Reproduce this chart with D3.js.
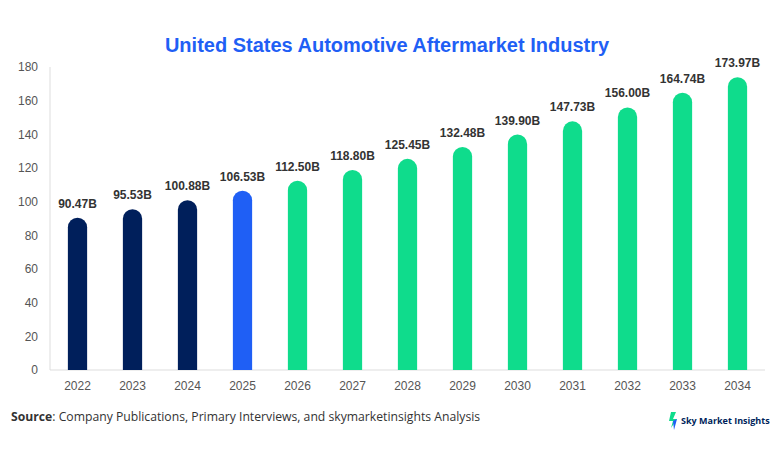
<!DOCTYPE html>
<html><head><meta charset="utf-8">
<script src="https://cdn.jsdelivr.net/npm/d3@7"></script>
<style>body{margin:0;background:#fff;font-family:"Liberation Sans",Arial,sans-serif}</style>
</head><body>
<svg id="c" width="782" height="454"></svg>
<script>
const years = ['2022','2023','2024','2025','2026','2027','2028','2029','2030','2031','2032','2033','2034'];
const values = [90.47,95.53,100.88,106.53,112.50,118.80,125.45,132.48,139.90,147.73,156.00,164.74,173.97];
const yTicks = [0,20,40,60,80,100,120,140,160,180];

const svg = d3.select('#c');
const m = {left: 50, right: 17, top: 67, bottom: 84};
const W = 782 - m.left - m.right, H = 454 - m.top - m.bottom;
const g = svg.append('g').attr('transform', `translate(${m.left},${m.top})`);

const x = d3.scaleBand().domain(years).range([0, W]).paddingInner(0.65).paddingOuter(0.325);
const y = d3.scaleLinear().domain([0, 180]).range([H, 0]);

const color = i => i < 3 ? '#001f5b' : i === 3 ? '#1f5ff5' : '#0fdc8c';

svg.append('text').attr('x', 387).attr('y', 52).attr('text-anchor', 'middle')
  .attr('font-size', 20).attr('font-weight', 'bold').attr('fill', '#1f5ff5')
  .text('United States Automotive Aftermarket Industry');

g.append('line').attr('x1', 0).attr('x2', 0).attr('y1', 0).attr('y2', H).attr('stroke', '#ddd');
g.append('line').attr('x1', 0).attr('x2', W).attr('y1', H).attr('y2', H).attr('stroke', '#ddd');

g.selectAll('.yt').data(yTicks).join('text')
  .attr('x', -12).attr('y', d => y(d)).attr('dy', '0.35em').attr('text-anchor', 'end')
  .attr('font-size', 12).attr('fill', '#555').text(d => d);

g.selectAll('.xt').data(years).join('text')
  .attr('x', d => x(d) + x.bandwidth() / 2).attr('y', H + 20).attr('text-anchor', 'middle')
  .attr('font-size', 12).attr('fill', '#555').text(d => d);

const bw = x.bandwidth(), r = bw / 2;
g.selectAll('.bar').data(values).join('path')
  .attr('fill', (d, i) => color(i))
  .attr('d', (d, i) => {
    const x0 = x(years[i]), yt = y(d);
    return `M${x0},${H}V${yt + r}A${r},${r} 0 0 1 ${x0 + bw},${yt + r}V${H}Z`;
  });

g.selectAll('.lbl').data(values).join('text')
  .attr('x', (d, i) => x(years[i]) + bw / 2).attr('y', d => y(d) - 10)
  .attr('text-anchor', 'middle').attr('font-size', 12).attr('font-weight', 'bold').attr('fill', '#333')
  .text(d => d.toFixed(2) + 'B');

const src = svg.append('text').attr('x', 11).attr('y', 421).attr('font-size', 12.2)
  .attr('font-family', '"Open Sans", sans-serif').attr('fill', '#333');
src.append('tspan').attr('font-weight', 'bold').text('Source');
src.append('tspan').text(': Company Publications, Primary Interviews, and skymarketinsights Analysis');

const logo = svg.append('g').attr('transform', 'translate(668,412)');
logo.append('path').attr('d', 'M3,0 L8,0 L5,7 L9,7 L3,16 L5,9 L1,9 Z').attr('fill', '#0fdc8c');
logo.append('path').attr('d', 'M5,9 L9,7 L6,18 Z').attr('fill', '#1f5ff5');
logo.append('text').attr('x', 13).attr('y', 12).attr('font-size', 9).attr('font-weight', 'bold')
  .attr('font-family', '"Open Sans", sans-serif')
  .attr('fill', '#001f5b').text('Sky Market Insights');
</script>
</body></html>
